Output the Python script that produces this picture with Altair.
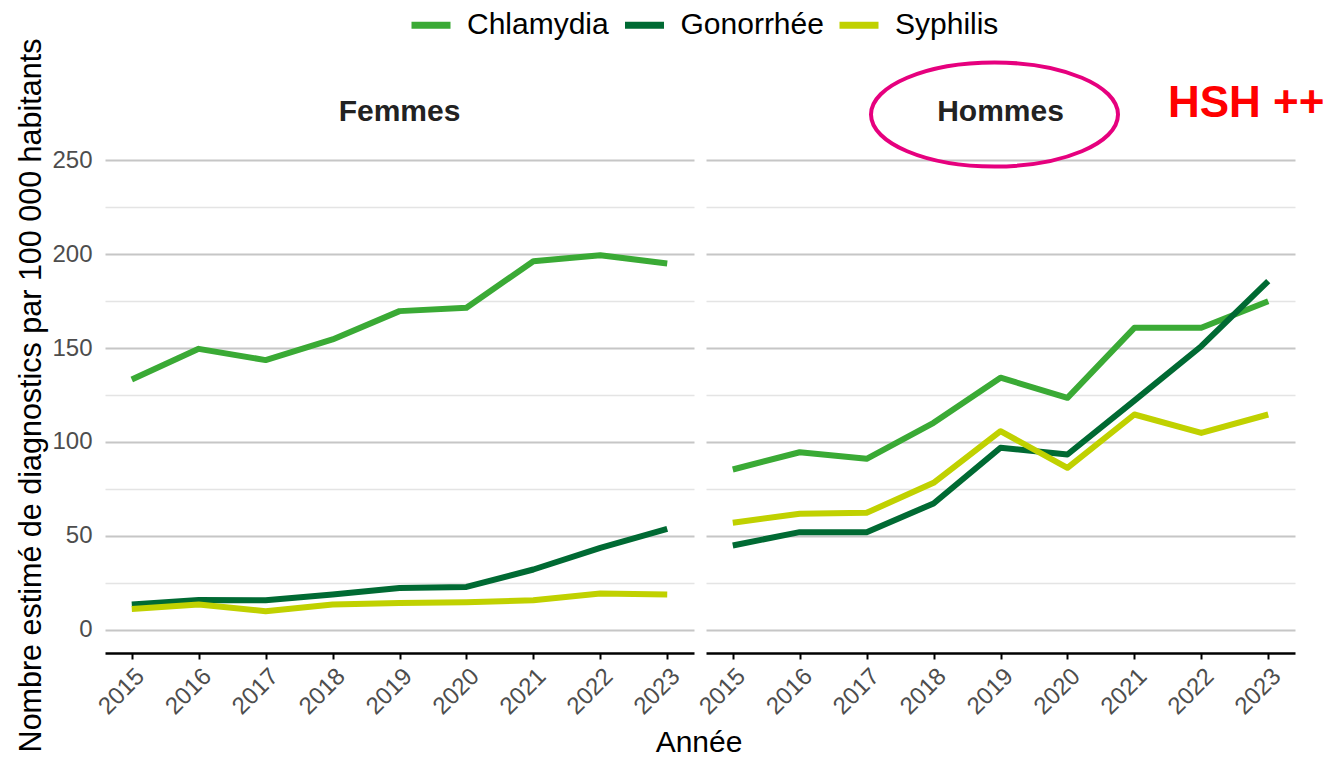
import altair as alt
import pandas as pd

annees = list(range(2015, 2024))
infections = ["Chlamydia", "Gonorrhée", "Syphilis"]
couleurs = ["#3aaa35", "#006a33", "#c0d100"]

femmes_chlamydia = [133.3, 149.6, 143.6, 154.6, 169.7, 171.5, 196.3, 199.5, 195.1]
femmes_gonorrhee = [13.3, 15.8, 15.6, 18.7, 22.2, 22.7, 32.0, 43.5, 53.7]
femmes_syphilis = [11.0, 13.3, 9.8, 13.3, 14.2, 14.6, 15.6, 19.2, 18.7]
hommes_chlamydia = [85.3, 94.5, 91.0, 110.2, 134.2, 123.5, 160.8, 160.8, 175.0]
hommes_gonorrhee = [44.8, 51.9, 51.9, 67.2, 96.9, 93.3, 122.0, 151.0, 185.7]
hommes_syphilis = [56.9, 61.7, 62.2, 78.2, 105.7, 86.2, 114.6, 104.8, 114.6]

series = {
    ("Femmes", "Chlamydia"): femmes_chlamydia,
    ("Femmes", "Gonorrhée"): femmes_gonorrhee,
    ("Femmes", "Syphilis"): femmes_syphilis,
    ("Hommes", "Chlamydia"): hommes_chlamydia,
    ("Hommes", "Gonorrhée"): hommes_gonorrhee,
    ("Hommes", "Syphilis"): hommes_syphilis,
}
rows = []
for (sexe, inf), vals in series.items():
    for a, v in zip(annees, vals):
        rows.append({"sexe": sexe, "infection": inf, "annee": a, "valeur": v})
df = pd.DataFrame(rows)

FONT = "Liberation Sans"
W, H = 589, 516
grid_test = "datum.value % 50 === 0"


def panel(sexe, left):
    yaxis = alt.Axis(
        values=list(range(0, 251, 25)),
        labelExpr="datum.value % 50 === 0 ? datum.label : ''",
        labels=left,
        title="Nombre estimé de diagnostics par 100 000 habitants" if left else None,
        titleFontSize=30.5, titleFontWeight="normal", titleColor="#000000", titleFont=FONT,
        titlePadding=5,
        labelFontSize=24, labelColor="#4d4d4d", labelFont=FONT, labelPadding=13,
        domain=False, ticks=False,
        gridColor={"condition": {"test": grid_test, "value": "#c6c6c6"}, "value": "#e4e4e4"},
        gridWidth={"condition": {"test": grid_test, "value": 2}, "value": 1.5},
    )
    xaxis = alt.Axis(
        values=annees, format="d", title=None, grid=False,
        labelAngle=-45, labelAlign="right", labelBaseline="top",
        labelFontSize=24, labelColor="#4d4d4d", labelFont=FONT, labelPadding=5,
        domainColor="#000000", domainWidth=2.3, tickColor="#000000", tickWidth=2, tickSize=6,
    )
    lines = alt.Chart(df[df.sexe == sexe]).mark_line(
        strokeWidth=6, strokeCap="butt", strokeJoin="round"
    ).encode(
        x=alt.X("annee:Q", scale=alt.Scale(domain=[2014.6, 2023.4], nice=False, zero=False), axis=xaxis),
        y=alt.Y("valeur:Q", scale=alt.Scale(domain=[-12.5, 262.5], nice=False, zero=False), axis=yaxis),
        color=alt.Color(
            "infection:N",
            scale=alt.Scale(domain=infections, range=couleurs),
            legend=alt.Legend(
                title=None, orient="none", direction="horizontal",
                legendX=307.5, legendY=-130.5,
                labelFontSize=30, labelFont=FONT, labelColor="#000000",
                symbolType="M -1.3 0 L 1.3 0", symbolStrokeWidth=7, symbolSize=900,
                symbolFillColor="transparent",
                columnPadding=1.5, labelOffset=17.5,
            ),
        ),
        order=alt.Order("annee:Q"),
    )
    one = pd.DataFrame({"k": [0]})
    layers = [
        lines,
        alt.Chart(one).mark_text(
            text=sexe, fontSize=30, font=FONT, fontWeight="bold", color="#222222", baseline="middle"
        ).encode(x=alt.value(W / 2), y=alt.value(-25.5)),
    ]
    if left:
        layers.append(
            alt.Chart(one).mark_text(text="Année", fontSize=30, font=FONT, color="#000000",
                                     baseline="alphabetic")
            .encode(x=alt.value(594), y=alt.value(615))
        )
    else:
        layers.append(
            alt.Chart(one).mark_point(
                shape="M -1 0 A 1 0.421 0 1 0 1 0 A 1 0.421 0 1 0 -1 0 Z",
                filled=False, stroke="#e6007e", strokeWidth=4, size=61009, opacity=1,
            ).encode(x=alt.value(288.5), y=alt.value(-22.5))
        )
        layers.append(
            alt.Chart(one).mark_text(
                text="HSH ++", fontSize=44, font=FONT, fontWeight="bold", color="#ff0000",
                align="left", baseline="middle",
            ).encode(x=alt.value(462), y=alt.value(-33.5))
        )
    return alt.layer(*layers).properties(width=W, height=H)


chart = alt.hconcat(
    panel("Femmes", True), panel("Hommes", False), spacing=12, bounds="flush"
).configure_view(stroke=None).properties(padding={"left": 8, "top": -2, "right": 0, "bottom": 0})

chart.save("out.html", embed_options={"renderer": "svg", "actions": False})
